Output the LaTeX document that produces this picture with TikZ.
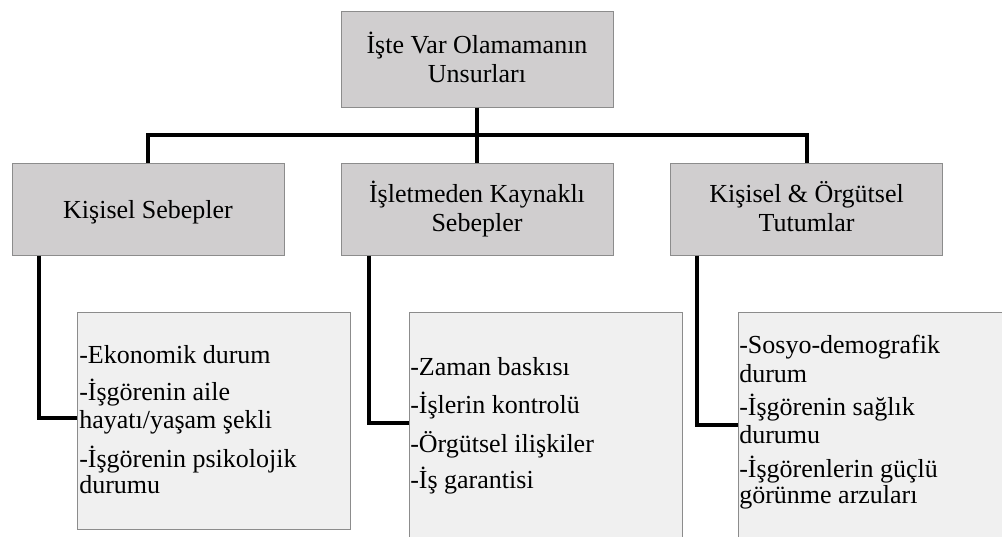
\documentclass[tikz,border=0pt]{standalone}
\usepackage{fontspec}
\setmainfont{Liberation Serif}
\usetikzlibrary{calc}
\definecolor{headfill}{RGB}{208,206,207}
\definecolor{itemfill}{RGB}{240,240,240}
\definecolor{boxline}{RGB}{140,140,140}
\begin{document}
\begin{tikzpicture}[x=0.75pt,y=-0.75pt,
  headbox/.style={draw=boxline, line width=0.75pt, fill=headfill,
    minimum width=204pt, minimum height=69pt, inner sep=0pt},
  headtext/.style={anchor=base, inner sep=0pt, font=\fontsize{19.5}{21.75}\selectfont},
  itembox/.style={draw=boxline, line width=0.75pt, fill=itemfill,
    minimum width=204.75pt, inner sep=0pt},
  item/.style={anchor=base west, inner sep=0pt, font=\fontsize{19.5}{21}\selectfont},
  link/.style={line width=3pt, black}]
\clip (0,0) rectangle (1002,536);
\fill[white] (0,0) rectangle (1002,536);

% header boxes
\node[headbox, minimum height=72pt] (root) at (477,59) {};
\node[headbox] (kisisel) at (148,209) {};
\node[headbox] (isletme) at (477,209) {};
\node[headbox] (tutum) at (806.5,209) {};

% header texts
\node[headtext] (root-a) at (477,53) {İşte Var Olamamanın};
\node[headtext] (root-b) at (477,82) {Unsurları};
\node[headtext] (kisisel-a) at (148,218) {Kişisel Sebepler};
\node[headtext] (isletme-a) at (477,202) {İşletmeden Kaynaklı};
\node[headtext] (isletme-b) at (477,231) {Sebepler};
\node[headtext] (tutum-a) at (806.5,202) {Kişisel \& Örgütsel};
\node[headtext] (tutum-b) at (806.5,231) {Tutumlar};

% detail boxes
\node[itembox, minimum height=162.75pt] (kisiselL) at (213.5,420.5) {};
\node[itembox, minimum height=186pt] (isletmeL) at (545.5,436) {};
\node[itembox, minimum height=186pt] (tutumL) at (874.5,436) {};

% tree connectors
\coordinate (bus) at (477,135);
\draw[link] (root.south) -- (isletme.north);
\draw[link] (kisisel.north) |- (bus) -| (tutum.north);

% elbow connectors to the detail boxes
\draw[link] ($(kisisel.south west)+(27,0)$) |- ($(kisiselL.north west)+(0,106)$);
\draw[link] ($(isletme.south west)+(28,0)$) |- ($(isletmeL.north west)+(0,111)$);
\draw[link] ($(tutum.south west)+(27,0)$) |- ($(tutumL.north west)+(0,113)$);

% detail texts
\node[item] (k1) at (79,363) {-Ekonomik durum};
\node[item] (k2) at (79,400) {-İşgörenin aile};
\node[item] (k3) at (79,428) {hayatı/yaşam şekli};
\node[item] (k4) at (79,467) {-İşgörenin psikolojik};
\node[item] (k5) at (79,493) {durumu};

\node[item] (i1) at (410,375) {-Zaman baskısı};
\node[item] (i2) at (410,413) {-İşlerin kontrolü};
\node[item] (i3) at (410,452) {-Örgütsel ilişkiler};
\node[item] (i4) at (410,488) {-İş garantisi};

\node[item] (t1) at (739,353) {-Sosyo-demografik};
\node[item] (t2) at (739,382) {durum};
\node[item] (t3) at (739,415) {-İşgörenin sağlık};
\node[item] (t4) at (739,443) {durumu};
\node[item] (t5) at (739,477) {-İşgörenlerin güçlü};
\node[item] (t6) at (739,503) {görünme arzuları};
\end{tikzpicture}
\end{document}
